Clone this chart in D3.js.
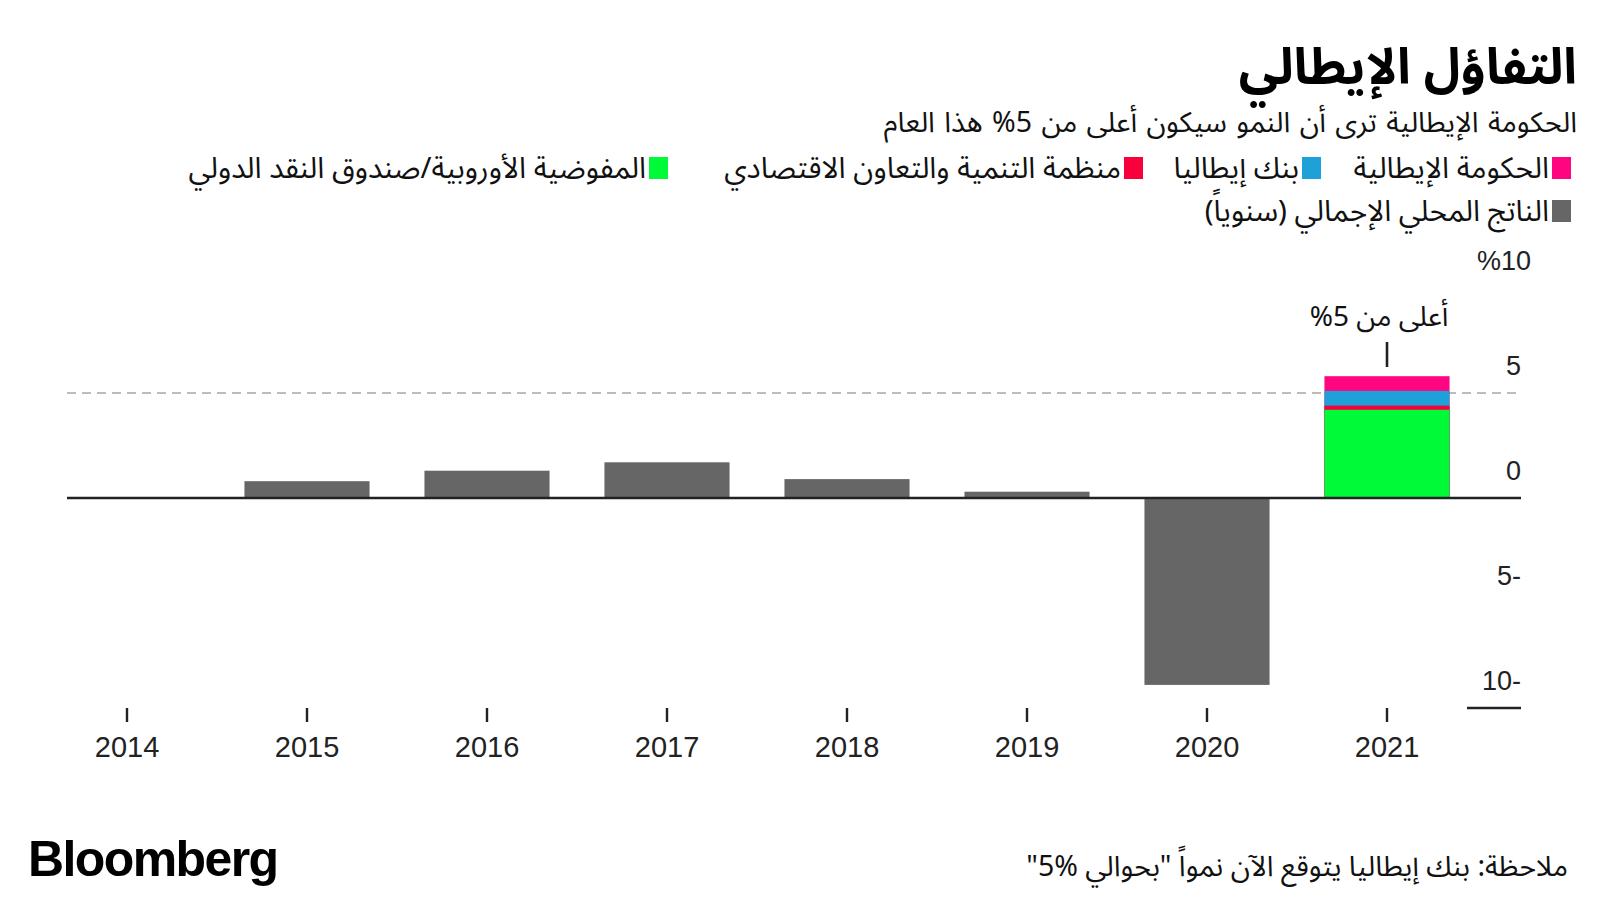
<!DOCTYPE html>
<html lang="ar">
<head>
<meta charset="utf-8">
<script src="https://cdn.jsdelivr.net/npm/d3@7"></script>
<style>
  html, body { margin: 0; padding: 0; background: #ffffff; }
  svg { display: block; }
  .ar { font-family: "Noto Sans Arabic", "DejaVu Sans", sans-serif; direction: rtl; }
  .num { font-family: "Liberation Sans", Arial, sans-serif; }
</style>
</head>
<body>
<svg id="chart" width="1600" height="900"></svg>
<script>
// ---------------- data ----------------
const years = ["2014", "2015", "2016", "2017", "2018", "2019", "2020", "2021"];
const gdpValues = [0.0, 0.8, 1.3, 1.7, 0.9, 0.3, -8.9, null];

const forecastYear = "2021";
const forecastNames = ["الحكومة الإيطالية", "بنك إيطاليا", "منظمة التنمية والتعاون الاقتصادي", "المفوضية الأوروبية/صندوق النقد الدولي"];
const forecastValues = [5.8, 5.1, 4.4, 4.2];
const forecastColors = ["#ff0580", "#1ea0d9", "#f8003c", "#00fa37"];

const gdpName = "الناتج المحلي الإجمالي (سنوياً)";
const gdpColor = "#666666";

const yTickValues = [10, 5, 0, -5, -10];
const yTickLabels = ["%10", "5", "0", "5-", "10-"];
const thresholdValue = 5;

const titleText = "التفاؤل الإيطالي";
const subtitleText = "الحكومة  الإيطالية ترى أن النمو سيكون أعلى من 5% هذا العام";
const annotationText = "أعلى من 5%";
const noteText = "ملاحظة: بنك إيطاليا يتوقع الآن نمواً \"بحوالي %5\"";
const sourceText = "Bloomberg";

// ---------------- layout ----------------
const svg = d3.select("#chart");
const plotLeft = 67, plotRight = 1521;

const x = d3.scaleBand()
  .domain(years)
  .range([37, 1477])
  .paddingInner(0.305)
  .paddingOuter(0.1525);

const y = d3.scaleLinear().domain([-10, 10]).range([708, 288]);

// title / subtitle
svg.append("text").attr("class", "ar")
  .attr("x", 1577).attr("y", 84)
  .attr("text-anchor", "start")
  .attr("font-size", 50).attr("font-weight", "bold").attr("fill", "#000")
  .text(titleText);

svg.append("text").attr("class", "ar")
  .attr("x", 1577).attr("y", 132)
  .attr("text-anchor", "start")
  .attr("font-size", 28.5).attr("word-spacing", 2).attr("fill", "#111")
  .text(subtitleText);

// legend
const legendItems = [
  { name: forecastNames[0], color: forecastColors[0], right: 1571, row: 0 },
  { name: forecastNames[1], color: forecastColors[1], right: 1321, row: 0 },
  { name: forecastNames[2], color: forecastColors[2], right: 1143, row: 0 },
  { name: forecastNames[3], color: forecastColors[3], right: 668, row: 0 },
  { name: gdpName, color: gdpColor, right: 1571, row: 1 }
];
const rowCenters = [168, 211];
const lg = svg.append("g");
legendItems.forEach(d => {
  const cy = rowCenters[d.row];
  lg.append("rect")
    .attr("x", d.right - 19).attr("y", cy - 11)
    .attr("width", 19).attr("height", 22)
    .attr("fill", d.color);
  lg.append("text").attr("class", "ar")
    .attr("x", d.right - 22).attr("y", cy + 10)
    .attr("text-anchor", "start")
    .attr("font-size", 29.5).attr("fill", "#111")
    .text(d.name);
});

// threshold dashed line (behind bars)
svg.append("line")
  .attr("x1", plotLeft).attr("x2", plotRight)
  .attr("y1", y(thresholdValue)).attr("y2", y(thresholdValue))
  .attr("stroke", "#7a7a7a").attr("stroke-width", 1.2)
  .attr("stroke-dasharray", "9,6");

// GDP bars
const gdpData = years.map((yr, i) => ({ year: yr, value: gdpValues[i] })).filter(d => d.value !== null);
svg.append("g").selectAll("rect")
  .data(gdpData)
  .join("rect")
  .attr("x", d => x(d.year))
  .attr("width", x.bandwidth())
  .attr("y", d => y(Math.max(0, d.value)))
  .attr("height", d => Math.abs(y(d.value) - y(0)))
  .attr("fill", gdpColor);

// 2021 forecasts (overlaid, largest first)
const fcData = forecastValues.map((v, i) => ({ name: forecastNames[i], value: v, color: forecastColors[i] }));
svg.append("g").selectAll("rect")
  .data(fcData)
  .join("rect")
  .attr("x", x(forecastYear))
  .attr("width", x.bandwidth())
  .attr("y", d => y(d.value))
  .attr("height", d => y(0) - y(d.value))
  .attr("fill", d => d.color);

// zero line
svg.append("line")
  .attr("x1", plotLeft).attr("x2", plotRight)
  .attr("y1", y(0)).attr("y2", y(0))
  .attr("stroke", "#222").attr("stroke-width", 2.6);

// bottom stub line at -10
svg.append("line")
  .attr("x1", 1467).attr("x2", plotRight)
  .attr("y1", y(-10)).attr("y2", y(-10))
  .attr("stroke", "#222").attr("stroke-width", 2.4);

// y labels (right side, above their values)
svg.append("g").selectAll("text")
  .data(yTickValues)
  .join("text")
  .attr("class", "num")
  .attr("x", (d, i) => plotRight + (yTickLabels[i].includes("%") ? 10 : 0))
  .attr("y", d => y(d) - 18)
  .attr("text-anchor", "end")
  .attr("font-size", 27).attr("fill", "#222")
  .text((d, i) => yTickLabels[i]);

// x axis
const xAxis = svg.append("g")
  .attr("transform", `translate(0,${y(-10)})`)
  .call(d3.axisBottom(x).tickSize(14).tickPadding(14));
xAxis.select(".domain").remove();
xAxis.selectAll(".tick line").attr("stroke", "#222").attr("stroke-width", 2.4);
xAxis.selectAll(".tick text")
  .attr("class", "num")
  .attr("font-size", 29)
  .attr("font-family", "Liberation Sans, Arial, sans-serif")
  .attr("fill", "#222");

// annotation
const ax = x(forecastYear) + x.bandwidth() / 2;
svg.append("line")
  .attr("x1", ax).attr("x2", ax)
  .attr("y1", 342).attr("y2", 367)
  .attr("stroke", "#222").attr("stroke-width", 2.6);
svg.append("text").attr("class", "ar")
  .attr("x", ax - 8).attr("y", 326)
  .attr("text-anchor", "middle")
  .attr("font-size", 28).attr("fill", "#111")
  .text(annotationText);

// footer
svg.append("text")
  .attr("x", 28).attr("y", 876)
  .attr("font-family", "Liberation Sans, Arial, sans-serif")
  .attr("font-weight", "bold").attr("font-size", 50)
  .attr("letter-spacing", -1.6)
  .attr("fill", "#000")
  .text(sourceText);

svg.append("text").attr("class", "ar")
  .attr("x", 1568).attr("y", 876)
  .attr("text-anchor", "start")
  .attr("font-size", 28.5).attr("fill", "#111")
  .text(noteText);
</script>
</body>
</html>
